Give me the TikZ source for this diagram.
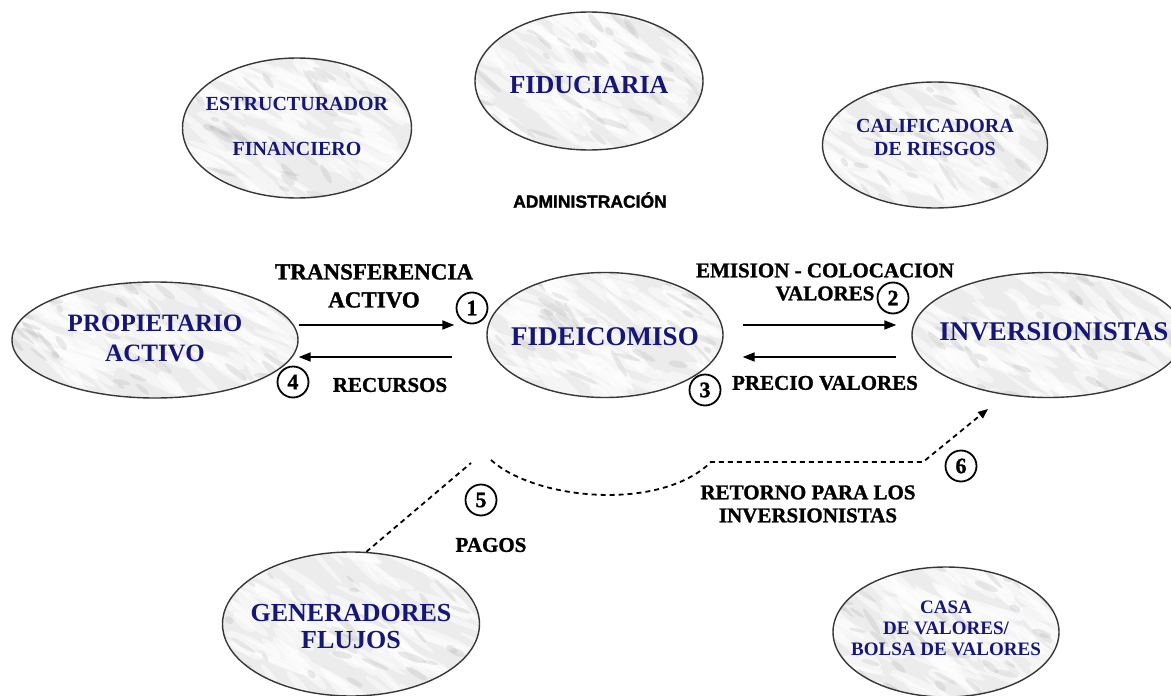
\documentclass[tikz,border=0pt]{standalone}
\usepackage{fontspec}
\setmainfont{Liberation Serif}
\newfontfamily\serifbf{Liberation Serif Bold}
\newfontfamily\lblbf[FakeBold=1.2]{Liberation Serif Bold}
\newfontfamily\admfont[FakeBold=1.5]{Liberation Sans Bold}
\usetikzlibrary{shapes.geometric,arrows.meta,calc}
\definecolor{navy}{RGB}{22,22,118}
\definecolor{rim}{RGB}{55,55,55}
\newcommand{\marble}[4]{%
  \begin{scope}
    \clip (#1,#2) ellipse [x radius=#3, y radius=#4];
    \fill[gray!15] (#1-#3,#2-#4) rectangle (#1+#3,#2+#4);
    \foreach \k in {1,...,110}{%
      \pgfmathsetmacro{\mpx}{#1+(2*rnd-1)*#3}%
      \pgfmathsetmacro{\mpy}{#2+(2*rnd-1)*#4}%
      \pgfmathsetmacro{\mwid}{4+12*rnd}%
      \pgfmathsetmacro{\mlen}{10+30*rnd}%
      \pgfmathsetmacro{\mang}{15+35*rnd}%
      \fill[white, opacity=0.5] (\mpx,\mpy) ellipse [x radius=\mlen, y radius=0.4*\mwid, rotate=-\mang];
    }
    \foreach \k in {1,...,40}{%
      \pgfmathsetmacro{\mpx}{#1+(2*rnd-1)*#3}%
      \pgfmathsetmacro{\mpy}{#2+(2*rnd-1)*#4}%
      \pgfmathsetmacro{\mlen}{4+14*rnd}%
      \pgfmathsetmacro{\mang}{10+50*rnd}%
      \fill[gray!60, opacity=0.25] (\mpx,\mpy) ellipse [x radius=\mlen, y radius=1.5+2*rnd, rotate=-\mang];
    }
  \end{scope}}
\begin{document}
\begin{tikzpicture}[x=1pt,y=-1pt,
  ent/.style={ellipse, draw=rim, line width=1.4pt, inner sep=0pt},
  etxt/.style={text=navy, align=center, inner sep=0pt},
  lbl/.style={font=\lblbf\fontsize{21}{23}\selectfont, align=center, inner sep=0pt},
  num/.style={circle, draw=black, line width=1.8pt, minimum size=31pt, inner sep=0pt, font=\lblbf\fontsize{22}{22}\selectfont},
  flow/.style={line width=1.8pt, -{Triangle[length=12pt,width=9pt]}},
  dashline/.style={line width=1.8pt, dash pattern=on 5pt off 4pt}]
\clip (0,0) rectangle (1171,696);
\fill[white] (0,0) rectangle (1171,696);
\pgfmathsetseed{7}
\marble{297}{128}{114.5}{70}
\marble{589}{81}{114}{69}
\marble{935}{145}{112.5}{63}
\marble{155}{340}{143}{58}
\marble{605}{335}{118}{62.5}
\marble{1048}{335}{136}{62.5}
\marble{351}{624}{128.5}{72}
\marble{946}{632}{113}{65}

\node[ent, minimum width=229pt, minimum height=140pt,
  label={[etxt, font=\serifbf\fontsize{20}{24}\selectfont, yshift=2pt]center:{ESTRUCTURADOR\\[21pt]FINANCIERO}}] (estr) at (297,128) {};
\node[ent, minimum width=228pt, minimum height=138pt,
  label={[etxt, font=\serifbf\fontsize{26}{30}\selectfont, yshift=-4pt]center:{FIDUCIARIA}}] (fidu) at (589,81) {};
\node[ent, minimum width=225pt, minimum height=126pt,
  label={[etxt, font=\serifbf\fontsize{20}{23}\selectfont, yshift=8pt]center:{CALIFICADORA\\DE RIESGOS}}] (cal) at (935,145) {};
\node[ent, minimum width=286pt, minimum height=116pt,
  label={[etxt, font=\serifbf\fontsize{25}{30}\selectfont, yshift=2pt]center:{PROPIETARIO\\ACTIVO}}] (prop) at (155,340) {};
\node[ent, minimum width=236pt, minimum height=125pt,
  label={[etxt, font=\serifbf\fontsize{27}{30}\selectfont, yshift=-2pt]center:{FIDEICOMISO}}] (fid) at (605,335) {};
\node[ent, minimum width=272pt, minimum height=125pt,
  label={[etxt, font=\serifbf\fontsize{27}{30}\selectfont, xshift=6pt, yshift=3pt]center:{INVERSIONISTAS}}] (inv) at (1048,335) {};
\node[ent, minimum width=257pt, minimum height=144pt,
  label={[etxt, font=\serifbf\fontsize{26}{27}\selectfont, yshift=-3pt]center:{GENERADORES\\FLUJOS}}] (gen) at (351,624) {};
\node[ent, minimum width=226pt, minimum height=130pt,
  label={[etxt, font=\serifbf\fontsize{19}{21}\selectfont, yshift=4pt]center:{CASA\\DE VALORES/\\BOLSA DE VALORES}}] (casa) at (946,632) {};

\node[inner sep=0pt, font=\admfont\fontsize{17.5}{17.5}\selectfont] (adm) at (590,200) {ADMINISTRACIÓN};

\node[lbl, font=\lblbf\fontsize{23}{28}\selectfont] (trans) at (374,286) {TRANSFERENCIA\\ACTIVO};
\node[lbl] (rec) at (390,385) {RECURSOS};
\node[lbl] (emi) at (825,282) {EMISION - COLOCACION\\VALORES};
\node[lbl] (pre) at (825,383) {PRECIO VALORES};
\node[lbl] (pag) at (491,545) {PAGOS};
\node[lbl] (ret) at (808,504) {RETORNO PARA LOS\\INVERSIONISTAS};

\node[num] (n1) at (472,308) {1};
\node[num] (n2) at (893,298) {2};
\node[num] (n3) at (705,390) {3};
\node[num] (n4) at (293,382) {4};
\node[num] (n5) at (481,500) {5};
\node[num] (n6) at (961,466) {6};

\draw[flow] ([yshift=15pt]prop.east) -- ([xshift=-32pt,yshift=10pt]fid.west);
\draw[flow] ([xshift=-34pt,yshift=-22pt]fid.west) -- ([yshift=-17pt]prop.east);
\draw[flow] ([xshift=19pt,yshift=10pt]fid.east) -- ([xshift=-15pt,yshift=10pt]inv.west);
\draw[flow] ([xshift=-15pt,yshift=-22pt]inv.west) -- ([xshift=19pt,yshift=-22pt]fid.east);

\coordinate (p5) at (471,463);
\coordinate (c0) at (491,460);
\coordinate (c1) at (711,462);
\coordinate (c2) at (923,462);
\coordinate (tip) at (988,409);
\draw[dashline] (gen.78) -- (p5);
\draw[dashline, -{Triangle[length=10pt,width=8pt]}] (c0) .. controls (535,500) and (660,512) .. (c1) -- (c2) -- (tip);
\end{tikzpicture}
\end{document}
